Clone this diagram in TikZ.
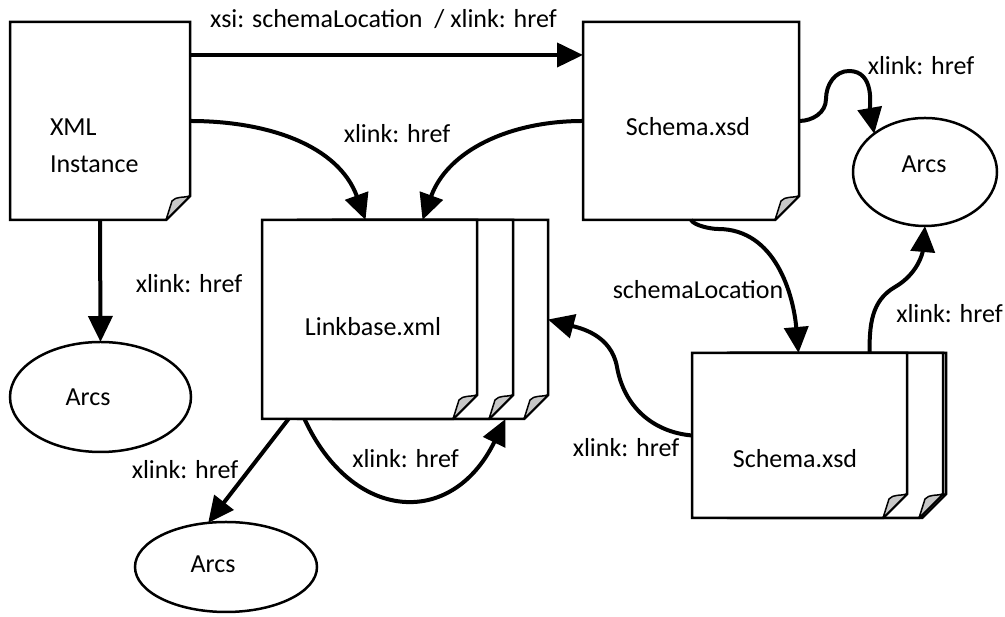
\documentclass[tikz,border=0pt]{standalone}
\usepackage{fontspec}
\setmainfont{Carlito}
\usetikzlibrary{arrows.meta,calc,shapes.geometric}

% outline of a sheet with a dog-eared lower right corner, drawn over a named box
\newcommand\pageoutline[1]{%
  \path[pagebody] (#1.north west) -- (#1.north east) -- ($(#1.south east)+(0,24)$)
    -- ($(#1.south east)+(-24,0)$) -- (#1.south west) -- cycle;
  \path[pageflap] ($(#1.south east)+(-24,0)$) -- ($(#1.south east)+(0,24)$)
    .. controls ($(#1.south east)+(-6,22)$) and ($(#1.south east)+(-14,24)$) .. ($(#1.south east)+(-18,19)$)
    -- cycle;
}

\begin{document}
\begin{tikzpicture}[x=1pt,y=1pt,
  every node/.style={font=\fontsize{26}{31}\selectfont, inner sep=0pt, outer sep=0pt},
  pagebox/.style={draw=none, rectangle, minimum width=215, minimum height=199},
  pagebody/.style={draw=black, fill=white, line width=2.5pt, line join=miter},
  pageflap/.style={draw=black, fill=black!22, line width=1.5pt, line join=round},
  arcnode/.style={ellipse, draw=black, line width=2.5pt, fill=white},
  link/.style={line width=4pt, -{Triangle[length=26pt,width=24pt]}},
  lbl/.style={anchor=base}]
\useasboundingbox (0,0) rectangle (1005,617);

% document boxes
\node[pagebox, minimum width=180, minimum height=198] (xml) at (100,496) {};
\node[pagebox, minimum width=216, minimum height=198] (sch) at (691,496) {};
\node[pagebox] (lb3) at (440.5,297.5) {};
\node[pagebox] (lb2) at (405.5,297.5) {};
\node[pagebox] (lb)  at (369.5,297.5) {};
\node[pagebox, minimum height=165] (br3) at (838.5,181.5) {};
\node[pagebox, minimum height=165] (br2) at (835.5,181.5) {};
\node[pagebox, minimum height=165] (br)  at (799.5,181.5) {};

\pageoutline{xml}
\pageoutline{sch}
\pageoutline{lb3}
\pageoutline{lb2}
\pageoutline{lb}
\pageoutline{br3}
\pageoutline{br2}
\pageoutline{br}

% arc sets
\node[arcnode, minimum width=144, minimum height=108] (arcR) at (925,445) {};
\node[arcnode, minimum width=181, minimum height=110] (arcL) at (100.5,220) {};
\node[arcnode, minimum width=182, minimum height=90]  (arcB) at (226,50) {};

% texts inside shapes
\node[anchor=base west] (xmlA) at (50,481) {XML};
\node[anchor=base west] (xmlB) at (50,444) {Instance};
\node[lbl] (schT) at (688,481) {Schema.xsd};
\node[lbl] (lbT)  at (373,281) {Linkbase.xml};
\node[lbl] (brT)  at (795,149) {Schema.xsd};
\node[lbl] (arcRT) at (924,444) {Arcs};
\node[lbl] (arcLT) at (88,211) {Arcs};
\node[lbl] (arcBT) at (213,44) {Arcs};

% connectors
\draw[link] ([yshift=66]xml.east) -- ([yshift=66]sch.west);
\draw[link] (xml.east) to[out=0,in=110] ([xshift=-4]lb.north);
\draw[link] (sch.west) to[out=180,in=70] ([xshift=53]lb.north);
\draw[link] (sch.east) to[out=0,in=-90] (826,518) to[out=90,in=180] (849,546)
  to[out=0,in=100] (arcR.143);
\draw[link] (sch.south) to[out=-60,in=180,looseness=0.6] (718,388)
  to[out=0,in=95] ([xshift=-1]br.north);
\draw[link] ([xshift=70]br.north) to[out=90,in=210] (895,330) to[out=30,in=-95] (arcR.south);
\draw[link] (br.west) to[out=175,in=-80] (617,250) to[out=100,in=-15] (lb3.east);
\draw[link] (xml.south) -- (arcL.north);
\draw[link] ([xshift=-81]lb.south) -- (arcB.112);
\draw[link] ([xshift=-65]lb.south) .. controls (352,95) and (452,88) .. ([xshift=65]lb3.south);

% connector labels
\node[lbl] (l1) at (383.5,589) {xsi: schemaLocation~~/ xlink: href};
\node[lbl] (l2) at (397,474) {xlink: href};
\node[lbl] (l3) at (921,542) {xlink: href};
\node[lbl] (l4) at (698,318) {schemaLocation};
\node[lbl] (l5) at (949.5,294) {xlink: href};
\node[lbl] (l6) at (626,160) {xlink: href};
\node[lbl] (l7) at (189,324) {xlink: href};
\node[lbl] (l8) at (185,138) {xlink: href};
\node[lbl] (l9) at (405.5,149) {xlink: href};
\end{tikzpicture}
\end{document}
